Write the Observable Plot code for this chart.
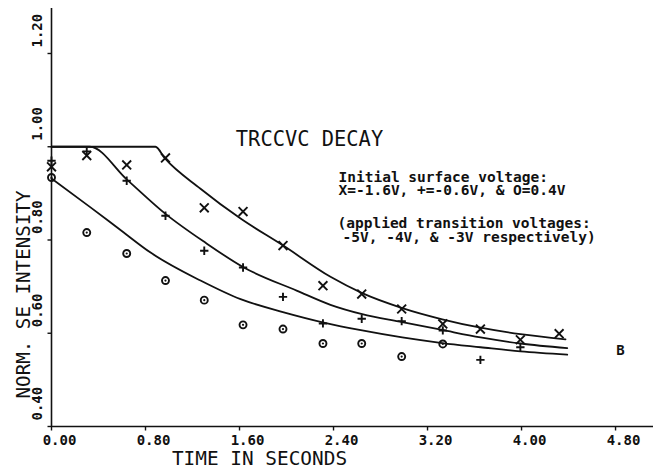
<!DOCTYPE html>
<html><head><meta charset="utf-8">
<script src="https://cdn.jsdelivr.net/npm/d3@7"></script>
<script src="https://cdn.jsdelivr.net/npm/@observablehq/plot@0.6"></script>
<style>body{margin:0;background:#fff;} svg{display:block;}</style>
</head><body><div id="chart"></div>
<script>
// ---- data ----
const sampleTimes = [0, 0.30, 0.64, 0.97, 1.30, 1.63, 1.97, 2.31, 2.64, 2.98, 3.33, 3.65, 3.99, 4.32];
const xMarks    = [0.957, 0.981, 0.961, 0.976, 0.869, 0.861, 0.788, 0.702, 0.684, 0.652, 0.620, 0.609, 0.586, 0.599]; // X = -1.6V
const plusMarks = [0.970, 0.990, 0.927, 0.852, 0.777, 0.741, 0.678, 0.621, 0.631, 0.626, 0.606, 0.543, 0.570];        // + = -0.6V
const oMarks    = [0.934, 0.816, 0.771, 0.713, 0.671, 0.618, 0.609, 0.578, 0.578, 0.550, 0.577];                      // O = 0.4V

const fitXTimes  = [0, 0.885, 0.962, 1.268, 1.609, 1.972, 2.374, 2.644, 2.985, 3.325, 3.651, 3.991, 4.374];
const fitXValues = [1.0, 1.0, 0.976, 0.910, 0.846, 0.788, 0.721, 0.686, 0.654, 0.630, 0.612, 0.598, 0.587];
const fitPlusTimes  = [0, 0.326, 0.644, 0.970, 1.311, 1.637, 2.091, 2.374, 2.644, 2.985, 3.325, 3.651, 3.991, 4.389];
const fitPlusValues = [1.0, 1.0, 0.929, 0.856, 0.794, 0.741, 0.691, 0.661, 0.641, 0.624, 0.607, 0.591, 0.578, 0.568];
const fitOTimes  = [0, 0.332, 0.615, 0.843, 1.268, 1.609, 1.977, 2.317, 2.644, 2.985, 3.325, 3.651, 3.991, 4.389];
const fitOValues = [0.932, 0.870, 0.816, 0.773, 0.713, 0.673, 0.645, 0.623, 0.606, 0.591, 0.579, 0.570, 0.561, 0.554];

const xTicks = [0, 0.8, 1.6, 2.4, 3.2, 4.0, 4.8];
const yTicks = [0.4, 0.6, 0.8, 1.0, 1.2];

const titleText = "TRCCVC DECAY";
const noteLine1 = "Initial surface voltage:";
const noteLine2 = "X=-1.6V, +=-0.6V, & O=0.4V";
const noteLine3 = "(applied transition voltages:";
const noteLine4 = "-5V, -4V, & -3V respectively)";
const panelLetter = "B";
const xLabel = "TIME IN SECONDS";
const yLabel = "NORM. SE INTENSITY";

// ---- build tables ----
const ptsX = xMarks.map((v, i) => ({t: sampleTimes[i], v}));
const ptsPlus = plusMarks.map((v, i) => ({t: sampleTimes[i], v}));
const ptsO = oMarks.map((v, i) => ({t: sampleTimes[i], v}));
const curve = (ts, vs) => ts.map((t, i) => ({t, v: vs[i]}));
const cX = curve(fitXTimes, fitXValues);
const cPlus = curve(fitPlusTimes, fitPlusValues);
const cO = curve(fitOTimes, fitOValues);

const fmt = d3.format(".2f");
const mono = "DejaVu Sans Mono";
const ink = "#111";
// tick-mark glyphs for the axis ticks
const tickDown = {draw(ctx) { ctx.moveTo(0, 0); ctx.lineTo(0, 4); }};
const tickLeft = {draw(ctx) { ctx.moveTo(0, 0); ctx.lineTo(-4, 0); }};
const note = (txt, dx, dy) => Plot.text([txt], {frameAnchor: "top-left", dx, dy, fontSize: 14.5, fontWeight: "bold",
  fontFamily: mono, fill: ink, textAnchor: "start", lineAnchor: "middle"});

const chart = Plot.plot({
  width: 653, height: 470,
  marginLeft: 51, marginRight: 0, marginTop: 8, marginBottom: 44,
  style: {background: "#fff", color: ink, fontFamily: mono},
  x: {type: "linear", domain: [0, 5.123], axis: null},
  y: {type: "linear", domain: [0.4, 1.2965], axis: null},
  marks: [
    // axes
    Plot.ruleY([0.4], {stroke: ink, strokeWidth: 1.6}),
    Plot.ruleX([0], {stroke: ink, strokeWidth: 1.6}),
    Plot.dot(xTicks, {x: d => d, y: () => 0.4, symbol: tickDown, stroke: ink, strokeWidth: 1.4, fill: "none"}),
    Plot.dot(yTicks, {x: () => 0, y: d => d, symbol: tickLeft, stroke: ink, strokeWidth: 1.4, fill: "none"}),
    Plot.text(xTicks, {x: d => d, frameAnchor: "bottom", text: d => fmt(d), dx: 8, dy: 14.5,
      fontSize: 14, fontWeight: "bold", fontFamily: mono, fill: ink, lineAnchor: "middle"}),
    Plot.text(yTicks, {y: d => d, frameAnchor: "left", text: d => fmt(d), rotate: -90, dx: -14, dy: -6,
      fontSize: 14, fontWeight: "bold", fontFamily: mono, fill: ink, lineAnchor: "middle"}),
    Plot.text([xLabel], {frameAnchor: "bottom-left", dx: 208, dy: 32.5, fontSize: 19.4, fontFamily: mono,
      fill: ink, textAnchor: "middle", lineAnchor: "middle"}),
    Plot.text([yLabel], {frameAnchor: "left", rotate: -90, dx: -27.5, dy: 77, fontSize: 19.2, fontFamily: mono,
      fill: ink, textAnchor: "middle", lineAnchor: "middle"}),
    // fitted curves
    Plot.line(cX, {x: "t", y: "v", curve: "monotone-x", stroke: ink, strokeWidth: 1.8}),
    Plot.line(cPlus, {x: "t", y: "v", curve: "monotone-x", stroke: ink, strokeWidth: 1.8}),
    Plot.line(cO, {x: "t", y: "v", curve: "monotone-x", stroke: ink, strokeWidth: 1.8}),
    // measured points
    Plot.dot(ptsX, {x: "t", y: "v", symbol: "times", r: 4.1, stroke: ink, strokeWidth: 1.9}),
    Plot.dot(ptsPlus, {x: "t", y: "v", symbol: "plus", r: 2.8, stroke: ink, strokeWidth: 1.9}),
    Plot.dot(ptsO, {x: "t", y: "v", r: 3.5, stroke: ink, strokeWidth: 1.9, fill: "none"}),
    Plot.dot(ptsO, {x: "t", y: "v", r: 1.1, fill: ink, stroke: "none"}),
    // annotations
    Plot.text([titleText], {frameAnchor: "top-left", dx: 258, dy: 130.5, fontSize: 20.4, fontFamily: mono,
      fill: ink, textAnchor: "middle", lineAnchor: "middle"}),
    note(noteLine1, 287, 168.5),
    note(noteLine2, 287, 182.3),
    note(noteLine3, 286, 215),
    note(noteLine4, 291, 229),
    Plot.text([panelLetter], {frameAnchor: "top-left", dx: 569, dy: 342, fontSize: 14, fontWeight: "bold",
      fontFamily: mono, fill: ink, textAnchor: "middle", lineAnchor: "middle"})
  ]
});
document.getElementById("chart").appendChild(chart);
</script>
</body></html>
